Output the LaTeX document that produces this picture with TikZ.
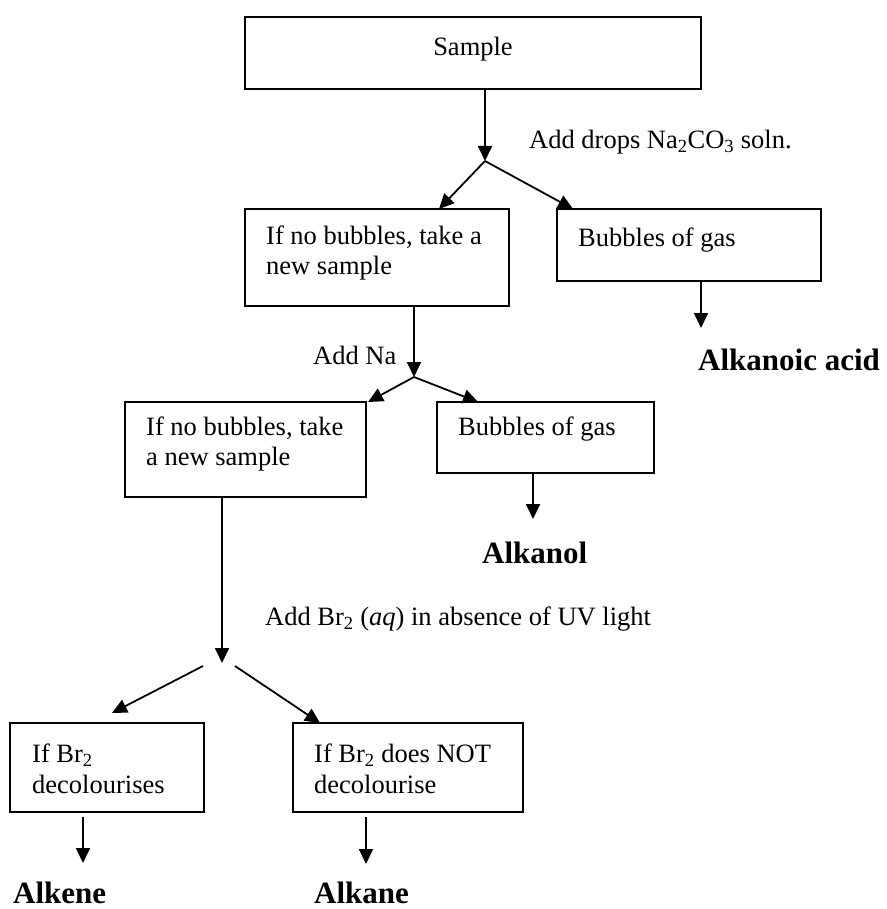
\documentclass[tikz,border=0pt]{standalone}
\usepackage{fontspec}
\setmainfont{Liberation Serif}
\usetikzlibrary{arrows.meta}
\begin{document}
\begin{tikzpicture}[x=1pt,y=-1pt,
  box/.style={draw, line width=1.9pt, anchor=north west, inner sep=0pt, outer sep=0pt},
  txt/.style={font=\fontsize{26.5}{30.5}\selectfont, inner sep=0pt, align=left, anchor=west},
  res/.style={font=\fontsize{31}{36}\selectfont\bfseries, inner sep=0pt, anchor=west},
  arr/.style={line width=1.8pt, -{Triangle[length=15pt,width=14pt]}}]
\useasboundingbox (0,0) rectangle (886,909);
% boxes
\node[box, minimum width=456pt, minimum height=72pt] (sample) at (245,17) {};
\node[box, minimum width=264pt, minimum height=97pt] (b1) at (245,209) {};
\node[box, minimum width=264pt, minimum height=72pt] (r1) at (557,209) {};
\node[box, minimum width=241pt, minimum height=95pt] (b2) at (125,402) {};
\node[box, minimum width=217pt, minimum height=71pt] (r2) at (437,402) {};
\node[box, minimum width=194pt, minimum height=89pt] (b3) at (10,723) {};
\node[box, minimum width=230pt, minimum height=89pt] (b4) at (293,723) {};
% box texts
\node[txt, anchor=center] (samplet) at (473,49) {Sample};
\node[txt] (b1t) at (266,253) {If no bubbles, take a\\new sample};
\node[txt] (r1t) at (578,240) {Bubbles of gas};
\node[txt] (b2t) at (146,444) {If no bubbles, take\\a new sample};
\node[txt] (r2t) at (458,429) {Bubbles of gas};
\node[txt] (b3t) at (32,769) {If Br\textsubscript{2}\\decolourises};
\node[txt] (b4t) at (314,769) {If Br\textsubscript{2} does NOT\\decolourise};
% step labels
\node[txt] (l1) at (529,142) {Add drops Na\textsubscript{2}CO\textsubscript{3} soln.};
\node[txt] (l2) at (313,355) {Add Na};
\node[txt] (l3) at (265,619) {Add Br\textsubscript{2} (\textit{aq}) in absence of UV light};
% results
\node[res] (acid) at (698,360) {Alkanoic acid};
\node[res] (alkanol) at (482,553) {Alkanol};
\node[res] (alkene) at (13,893) {Alkene};
\node[res] (alkane) at (314,893) {Alkane};
% junctions and free ends
\coordinate (j1) at (485,161);
\coordinate (j2) at (414,377);
\coordinate (j3) at (222,663);
\coordinate (s3l) at (203,666);
\coordinate (s3r) at (235,666);
\coordinate (t3l) at (112,713);
\coordinate (e1) at (701,328);
\coordinate (e2) at (533,519);
\coordinate (e3) at (83,863);
\coordinate (e4) at (366,864);
% connectors
\draw[arr] (sample.south -| j1) -- (j1);
\draw[arr] (j1) -- ([xshift=194pt]b1.north west);
\draw[arr] (j1) -- ([xshift=16pt]r1.north west);
\draw[arr] (r1.south -| e1) -- (e1);
\draw[arr] (b1.south -| j2) -- (j2);
\draw[arr] (j2) -- ([xshift=2pt]b2.north east);
\draw[arr] (j2) -- ([xshift=41pt]r2.north west);
\draw[arr] (r2.south -| e2) -- (e2);
\draw[arr] (b2.south -| j3) -- (j3);
\draw[arr] (s3l) -- (t3l);
\draw[arr] (s3r) -- ([xshift=27pt]b4.north west);
\draw[arr] ([yshift=-5pt]b3.south -| e3) -- (e3);
\draw[arr] ([yshift=-5pt]b4.south -| e4) -- (e4);
\end{tikzpicture}
\end{document}
